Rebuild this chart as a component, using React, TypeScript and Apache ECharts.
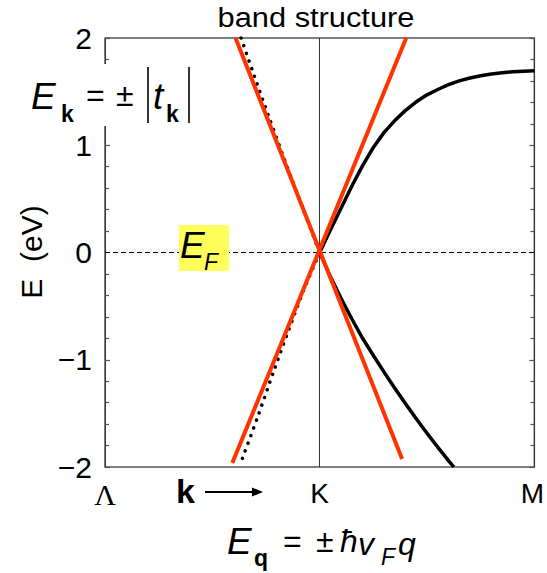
import React, { useEffect, useRef } from 'react';
import * as echarts from 'echarts';

const kLabels = ['Λ', 'K', 'M'];
const eTicks = [-2, -1, 0, 1, 2];

// upper band, K -> M (solid)
const upperRightK = [1, 1.05, 1.1, 1.15, 1.2, 1.25, 1.3, 1.35, 1.4, 1.45, 1.5, 1.55, 1.6, 1.65, 1.7, 1.75, 1.8, 1.85, 1.9, 1.95, 2];
const upperRightE = [0, 0.21, 0.415, 0.62, 0.81, 0.98, 1.12, 1.23, 1.325, 1.405, 1.47, 1.52, 1.565, 1.6, 1.627, 1.648, 1.664, 1.676, 1.685, 1.691, 1.695];
// lower band, K -> M (solid)
const lowerRightK = [1, 1.05, 1.1, 1.15, 1.2, 1.25, 1.3, 1.35, 1.4, 1.45, 1.5, 1.55, 1.6, 1.625];
const lowerRightE = [0, -0.225, -0.43, -0.62, -0.8, -0.96, -1.115, -1.265, -1.41, -1.55, -1.685, -1.815, -1.94, -2.0];
// upper band, Λ -> K (dotted)
const upperLeftK = [0.634, 0.694, 0.764, 0.841, 0.918, 1];
const upperLeftE = [2.0, 1.655, 1.26, 0.84, 0.43, 0];
// lower band, Λ -> K (dotted)
const lowerLeftK = [0.64, 0.71, 0.787, 0.856, 0.926, 1];
const lowerLeftE = [-1.92, -1.54, -1.1, -0.72, -0.35, 0];
// linear Dirac cones (red)
const coneAK = [0.608, 1.384];
const coneAE = [2.0, -1.925];
const coneBK = [0.593, 1.403];
const coneBE = [-1.963, 2.0];
// Fermi level
const fermiK = [0, 2];
const fermiE = [0, 0];

const zip = (a: number[], b: number[]) => a.map((v, i) => [v, b[i]]);

const FONT = 'Liberation Sans';

export default function App() {
  const ref = useRef<HTMLDivElement>(null);
  useEffect(() => {
    if (!ref.current) return;
    const chart = echarts.init(ref.current, undefined, { renderer: 'svg' });
    const txt = (x: number, y: number, text: string, fontSize: number, extra: any = {}) => ({
      type: 'text',
      x,
      y,
      z: 100,
      style: {
        text,
        fontSize,
        fontFamily: FONT,
        fill: '#000',
        align: 'left',
        verticalAlign: 'middle',
        ...extra,
      },
    });
    const tickStyle = { color: '#555', width: 1.2 };
    const band = (k: number[], e: number[], dotted: boolean) => ({
      type: 'line',
      data: zip(k, e),
      symbol: 'none',
      smooth: dotted ? 0.3 : false,
      lineStyle: dotted
        ? { color: '#000', width: 3.5, type: [0.1, 8], cap: 'round' }
        : { color: '#000', width: 3.5, join: 'round' },
    });
    chart.setOption({
      animation: false,
      backgroundColor: '#fff',
      grid: {
        left: 105,
        right: 10,
        top: 38,
        bottom: 106,
        show: true,
        borderColor: '#555',
        borderWidth: 1.5,
        backgroundColor: 'transparent',
      },
      xAxis: {
        type: 'value',
        min: 0,
        max: 2,
        interval: 1,
        axisLine: { show: false },
        axisTick: { show: false },
        splitLine: { show: true, lineStyle: { color: '#333', width: 1 } },
        axisLabel: {
          margin: 12,
          fontFamily: FONT,
          fontSize: 28,
          color: '#000',
          showMinLabel: true,
          showMaxLabel: true,
          formatter: (v: number) => {
            const i = Math.round(v);
            if (i === 0) return '{s|' + kLabels[0] + '}';
            if (i === 2) return '{m|' + kLabels[2] + '}';
            return kLabels[i] ?? '';
          },
          rich: {
            s: { fontFamily: 'Liberation Serif', fontSize: 30, color: '#000' },
            m: { fontFamily: FONT, fontSize: 28, color: '#000', padding: [0, 4, 0, 0] },
          },
        },
      },
      yAxis: [
        {
          type: 'value',
          min: eTicks[0],
          max: eTicks[eTicks.length - 1],
          interval: 1,
          position: 'left',
          axisLine: { show: false },
          axisTick: { show: true, inside: true, length: 5, lineStyle: tickStyle },
          minorTick: { show: true, splitNumber: 5, length: 4, lineStyle: tickStyle },
          splitLine: { show: false },
          axisLabel: {
            margin: 13,
            fontFamily: FONT,
            fontSize: 30,
            color: '#000',
            formatter: (v: number) => (v < 0 ? '\u2212' + Math.abs(v) : String(v)),
          },
        },
        {
          type: 'value',
          min: eTicks[0],
          max: eTicks[eTicks.length - 1],
          interval: 1,
          position: 'right',
          axisLine: { show: false },
          axisTick: { show: true, inside: true, length: 5, lineStyle: tickStyle },
          minorTick: { show: true, splitNumber: 5, length: 4, lineStyle: tickStyle },
          splitLine: { show: false },
          axisLabel: { show: false },
        },
      ],
      series: [
        {
          type: 'line',
          data: zip(fermiK, fermiE),
          symbol: 'none',
          lineStyle: { color: '#000', width: 1, type: [5, 3] },
          z: 1,
        },
        band(upperRightK, upperRightE, false),
        band(lowerRightK, lowerRightE, false),
        band(upperLeftK, upperLeftE, true),
        band(lowerLeftK, lowerLeftE, true),
        {
          type: 'line',
          data: zip(coneAK, coneAE),
          symbol: 'none',
          lineStyle: { color: '#ff3300', width: 4 },
          z: 5,
        },
        {
          type: 'line',
          data: zip(coneBK, coneBE),
          symbol: 'none',
          lineStyle: { color: '#ff3300', width: 4 },
          z: 5,
        },
      ],
      graphic: [
        // title
        {
          type: 'text',
          x: 316,
          y: 17,
          scaleX: 1.1,
          z: 100,
          style: {
            text: 'band structure',
            fontSize: 28,
            fontFamily: FONT,
            fill: '#000',
            align: 'center',
            verticalAlign: 'middle',
          },
        },
        // y-axis name
        {
          type: 'text',
          x: 31,
          y: 252,
          rotation: Math.PI / 2,
          z: 100,
          style: {
            text: 'E  (eV)',
            fontSize: 30,
            fontFamily: FONT,
            fill: '#000',
            align: 'center',
            verticalAlign: 'middle',
          },
        },
        // white box behind E_k formula
        { type: 'rect', z: 90, shape: { x: 30, y: 64, width: 165, height: 62 }, style: { fill: '#fff' } },
        txt(31, 96, 'E', 37, { fontStyle: 'italic' }),
        txt(61, 114, 'k', 23, { fontWeight: 'bold' }),
        txt(86, 95, '=', 32),
        txt(116, 95, '±', 32),
        { type: 'line', z: 100, shape: { x1: 148, y1: 67, x2: 148, y2: 123 }, style: { stroke: '#000', lineWidth: 1.6 } },
        txt(153, 96, 't', 37, { fontStyle: 'italic' }),
        txt(166, 114, 'k', 23, { fontWeight: 'bold' }),
        { type: 'line', z: 100, shape: { x1: 189, y1: 67, x2: 189, y2: 123 }, style: { stroke: '#000', lineWidth: 1.6 } },
        // E_F label
        { type: 'rect', z: 90, shape: { x: 179, y: 225, width: 50, height: 46 }, style: { fill: '#ffff5a' } },
        txt(180, 245, 'E', 37, { fontStyle: 'italic' }),
        txt(204, 262, 'F', 23, { fontStyle: 'italic' }),
        // k arrow
        txt(176, 491, 'k', 34, { fontWeight: 'bold' }),
        { type: 'line', z: 100, shape: { x1: 205, y1: 492, x2: 254, y2: 492 }, style: { stroke: '#000', lineWidth: 2 } },
        { type: 'polygon', z: 100, shape: { points: [[252, 487.5], [263, 492], [252, 496.5]] }, style: { fill: '#000' } },
        // bottom formula
        txt(227, 541, 'E', 37, { fontStyle: 'italic' }),
        txt(254, 558, 'q', 23, { fontWeight: 'bold' }),
        txt(283, 541, '=', 32),
        txt(316, 541, '±', 32),
        txt(340, 541, 'ħ', 32, { fontStyle: 'italic' }),
        txt(358, 544, 'v', 32, { fontStyle: 'italic' }),
        txt(381, 557, 'F', 23, { fontStyle: 'italic' }),
        txt(398, 544, 'q', 32, { fontStyle: 'italic' }),
      ],
    });
    return () => chart.dispose();
  }, []);
  return <div ref={ref} style={{ position: 'absolute', left: 0, top: 0, width: 547, height: 573 }} />;
}
